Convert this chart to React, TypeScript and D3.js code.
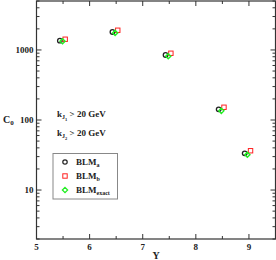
import React from 'react';
import * as d3 from 'd3';

const W = 276;
const H = 260;

// rapidity positions (slightly offset per series) and C0 values
const yBlmA = [5.44, 6.43, 7.43, 8.43, 8.92];
const c0BlmA = [1358, 1808, 849, 142, 33.4];
const yBlmB = [5.54, 6.53, 7.53, 8.53, 9.03];
const c0BlmB = [1422, 1911, 897, 152, 36.4];
const yBlmExact = [5.49, 6.48, 7.48, 8.48, 8.97];
const c0BlmExact = [1330, 1750, 813, 135, 31.9];

const xMajorTicks = [5, 6, 7, 8, 9];
const xMinorTicks = [5.5, 6.5, 7.5, 8.5];
const yMajorTicks = [10, 100, 1000];

const FONT = '"Liberation Serif", "DejaVu Serif", serif';

const diamondPath = (s: number) => `M0,${-s}L${s},0L0,${s}L${-s},0Z`;

export default function App() {
  const margin = { left: 36.5, right: 0.5, top: 1, bottom: 21 };
  const x = d3.scaleLinear().domain([5, 9.5]).range([margin.left, W - margin.right]);
  const y = d3.scaleLog().domain([2, 5000]).range([H - margin.bottom, margin.top]);

  const [x0, x1] = x.range();
  const [yb, yt] = y.range();

  const yMinor: number[] = [];
  [1, 10, 100, 1000].forEach(dec => {
    for (let k = 2; k <= 9; k++) {
      const v = dec * k;
      if (v >= 2 && v <= 5000) yMinor.push(v);
    }
  });

  const stroke = '#333';
  const diamond = diamondPath(2.6);

  return (
    <svg width={W} height={H} style={{ position: 'absolute', left: 0, top: 0, background: '#fff' }}
      fontFamily={FONT} fontWeight="bold">
      {/* frame */}
      <rect x={x0} y={yt} width={x1 - x0} height={yb - yt} fill="none" stroke={stroke} strokeWidth={1.2} />

      {/* x ticks, bottom and top, inward */}
      {xMajorTicks.map(t => (
        <g key={'xM' + t}>
          <line x1={x(t)} x2={x(t)} y1={yb} y2={yb - 5} stroke={stroke} />
          <line x1={x(t)} x2={x(t)} y1={yt} y2={yt + 5} stroke={stroke} />
          <text x={x(t)} y={yb + 11} textAnchor="middle" fontSize={9} fill="#222">{t}</text>
        </g>
      ))}
      {xMinorTicks.map(t => (
        <g key={'xm' + t}>
          <line x1={x(t)} x2={x(t)} y1={yb} y2={yb - 3} stroke={stroke} />
          <line x1={x(t)} x2={x(t)} y1={yt} y2={yt + 3} stroke={stroke} />
        </g>
      ))}

      {/* y ticks, left and right */}
      {yMajorTicks.map(t => (
        <g key={'yM' + t}>
          <line x1={x0} x2={x0 + 5} y1={y(t)} y2={y(t)} stroke={stroke} />
          <line x1={x1} x2={x1 - 5} y1={y(t)} y2={y(t)} stroke={stroke} />
          <text x={x0 - 3} y={y(t) + 3} textAnchor="end" fontSize={9} fill="#222">{t}</text>
        </g>
      ))}
      {yMinor.map(t => (
        <g key={'ym' + t}>
          <line x1={x0} x2={x0 + 3} y1={y(t)} y2={y(t)} stroke={stroke} />
          <line x1={x1} x2={x1 - 3} y1={y(t)} y2={y(t)} stroke={stroke} />
        </g>
      ))}

      {/* axis titles */}
      <text x={3} y={123} fontSize={10} fill="#222">
        C<tspan fontSize={7} dy={2}>0</tspan>
      </text>
      <text x={(x0 + x1) / 2} y={259} textAnchor="middle" fontSize={10} fill="#222">Y</text>

      {/* cuts */}
      <text x={57} y={117} fontSize={9} fill="#222">
        k<tspan fontSize={6} dy={2}>J</tspan><tspan fontSize={4.5} dy={1.5}>1</tspan>
        <tspan dy={-3.5}> &gt; 20 GeV</tspan>
      </text>
      <text x={57} y={136} fontSize={9} fill="#222">
        k<tspan fontSize={6} dy={2}>J</tspan><tspan fontSize={4.5} dy={1.5}>2</tspan>
        <tspan dy={-3.5}> &gt; 20 GeV</tspan>
      </text>

      {/* data */}
      {yBlmA.map((v, i) => (
        <circle key={'a' + i} cx={x(v)} cy={y(c0BlmA[i])} r={2.3} fill="none" stroke="#222" strokeWidth={1.3} />
      ))}
      {yBlmB.map((v, i) => (
        <rect key={'b' + i} x={x(v) - 2.2} y={y(c0BlmB[i]) - 2.2} width={4.4} height={4.4} fill="none" stroke="#ff2020" strokeWidth={1} />
      ))}
      {yBlmExact.map((v, i) => (
        <path key={'e' + i} d={diamond} transform={`translate(${x(v)},${y(c0BlmExact[i])})`} fill="none" stroke="#22ee22" strokeWidth={1.4} />
      ))}

      {/* legend */}
      <rect x={53} y={153.5} width={64.5} height={45.5} fill="#fff" stroke="#888" strokeWidth={1} />
      <circle cx={65} cy={162} r={2.2} fill="none" stroke="#222" strokeWidth={1.2} />
      <text x={76} y={164.5} fontSize={9} fill="#222">BLM<tspan fontSize={6} dy={2}>a</tspan></text>
      <rect x={62.8} y={173.8} width={4.4} height={4.4} fill="none" stroke="#ff2020" strokeWidth={1} />
      <text x={76} y={178.5} fontSize={9} fill="#222">BLM<tspan fontSize={6} dy={2}>b</tspan></text>
      <path d={diamond} transform="translate(65,190)" fill="none" stroke="#22ee22" strokeWidth={1.3} />
      <text x={76} y={192.5} fontSize={9} fill="#222">BLM<tspan fontSize={6} dy={2}>exact</tspan></text>
    </svg>
  );
}
